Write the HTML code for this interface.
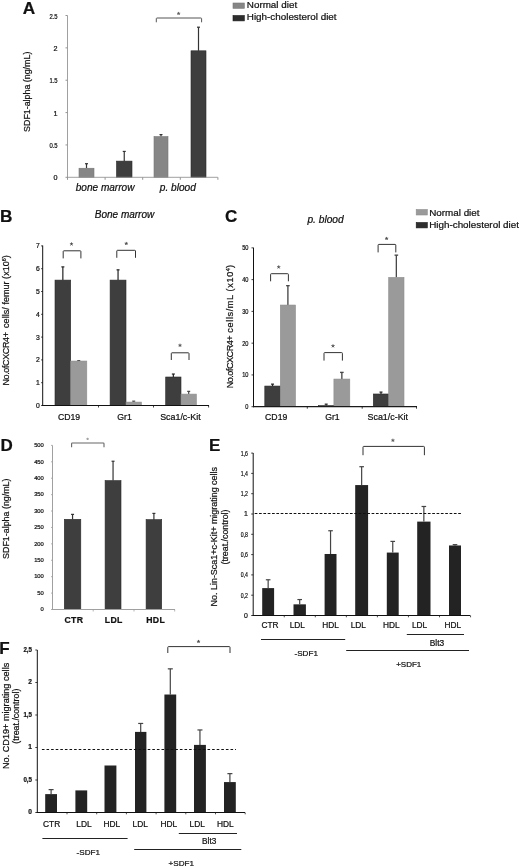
<!DOCTYPE html>
<html lang="en">
<head>
<meta charset="utf-8">
<title>Figure</title>
<style>
html,body{margin:0;padding:0;background:#fff;}
body{width:520px;height:868px;overflow:hidden;font-family:"Liberation Sans",sans-serif;}
svg{display:block;filter:grayscale(1);}
svg text{font-family:"Liberation Sans",sans-serif;fill:#111;stroke:#111;stroke-width:.22px;}
</style>
</head>
<body>
<svg width="520" height="868" viewBox="0 0 520 868">
<rect x="0" y="0" width="520" height="868" fill="#fff"/>
<g>
<text x="22.8" y="13.9" font-size="17.2" font-weight="bold" fill="#000" stroke="#000">A</text>
<line x1="86.5" y1="163.71" x2="86.5" y2="168.24" stroke="#333" stroke-width="1.2"/>
<line x1="85" y1="163.71" x2="88" y2="163.71" stroke="#333" stroke-width="1.2"/>
<rect x="79" y="168.24" width="15" height="9.06" fill="#868686" stroke="#777" stroke-width="0.6"/>
<line x1="124.25" y1="151.42" x2="124.25" y2="161.12" stroke="#333" stroke-width="1.2"/>
<line x1="122.75" y1="151.42" x2="125.75" y2="151.42" stroke="#333" stroke-width="1.2"/>
<rect x="116.5" y="161.12" width="15.5" height="16.18" fill="#3e3e3e" stroke="#2a2a2a" stroke-width="0.6"/>
<line x1="161" y1="134.6" x2="161" y2="136.54" stroke="#333" stroke-width="1.2"/>
<line x1="159.5" y1="134.6" x2="162.5" y2="134.6" stroke="#333" stroke-width="1.2"/>
<rect x="154" y="136.54" width="14" height="40.76" fill="#868686" stroke="#777" stroke-width="0.6"/>
<line x1="198.5" y1="27.2" x2="198.5" y2="50.81" stroke="#333" stroke-width="1.2"/>
<line x1="197" y1="27.2" x2="200" y2="27.2" stroke="#333" stroke-width="1.2"/>
<rect x="191" y="50.81" width="15" height="126.49" fill="#3e3e3e" stroke="#2a2a2a" stroke-width="0.6"/>
<line x1="67.5" y1="15.5" x2="67.5" y2="177.8" stroke="#959595" stroke-width="0.9"/>
<line x1="67" y1="177.3" x2="217.8" y2="177.3" stroke="#959595" stroke-width="0.9"/>
<line x1="67.5" y1="177.3" x2="67.5" y2="179.8" stroke="#959595" stroke-width="1"/>
<line x1="105.1" y1="177.3" x2="105.1" y2="179.8" stroke="#959595" stroke-width="1"/>
<line x1="142.7" y1="177.3" x2="142.7" y2="179.8" stroke="#959595" stroke-width="1"/>
<line x1="180.3" y1="177.3" x2="180.3" y2="179.8" stroke="#959595" stroke-width="1"/>
<line x1="217.9" y1="177.3" x2="217.9" y2="179.8" stroke="#959595" stroke-width="1"/>
<line x1="65.5" y1="177.3" x2="67.5" y2="177.3" stroke="#959595" stroke-width="1"/>
<text x="57.6" y="180.3" font-size="7.2" text-anchor="end">0</text>
<line x1="65.5" y1="144.94" x2="67.5" y2="144.94" stroke="#959595" stroke-width="1"/>
<text x="57.6" y="147.94" font-size="7.2" text-anchor="end" textLength="8.2" lengthAdjust="spacingAndGlyphs">0.5</text>
<line x1="65.5" y1="112.58" x2="67.5" y2="112.58" stroke="#959595" stroke-width="1"/>
<text x="57.6" y="115.58" font-size="7.2" text-anchor="end">1</text>
<line x1="65.5" y1="80.22" x2="67.5" y2="80.22" stroke="#959595" stroke-width="1"/>
<text x="57.6" y="83.22" font-size="7.2" text-anchor="end" textLength="8.2" lengthAdjust="spacingAndGlyphs">1.5</text>
<line x1="65.5" y1="47.86" x2="67.5" y2="47.86" stroke="#959595" stroke-width="1"/>
<text x="57.6" y="50.86" font-size="7.2" text-anchor="end">2</text>
<line x1="65.5" y1="15.5" x2="67.5" y2="15.5" stroke="#959595" stroke-width="1"/>
<text x="57.6" y="18.5" font-size="7.2" text-anchor="end" textLength="8.2" lengthAdjust="spacingAndGlyphs">2.5</text>
<text x="105.1" y="191.42" font-size="10.05" text-anchor="middle" font-style="italic">bone marrow</text>
<text x="177.8" y="191.45" font-size="10.15" text-anchor="middle" font-style="italic">p. blood</text>
<text x="30.29" y="91.8" font-size="8.87" text-anchor="middle" transform="rotate(-90 30.29 91.8)">SDF1-alpha (ng/mL)</text>
<path d="M156.3 22.3 V18.7 Q156.3 18 157 18 H200.9 Q201.6 18 201.6 18.7 V22.3" fill="none" stroke="#555" stroke-width="1"/>
<path d="M178.6 13.6 L178.6 11.93M178.6 13.6 L180.19 13.08M178.6 13.6 L179.58 14.95M178.6 13.6 L177.62 14.95M178.6 13.6 L177.01 13.08" fill="none" stroke="#555" stroke-width="0.9"/>
<rect x="233" y="3" width="11.3" height="5.3" fill="#868686" stroke="#777" stroke-width="0.6"/>
<rect x="233" y="15.5" width="11.3" height="5.4" fill="#2e2e2e" stroke="#1a1a1a" stroke-width="0.6"/>
<text x="246.8" y="8.3" font-size="9.85">Normal diet</text>
<text x="246.8" y="19.9" font-size="9.85">High-cholesterol diet</text>
<text x="0" y="221.9" font-size="17.2" font-weight="bold" fill="#000" stroke="#000">B</text>
<text x="124.5" y="218" font-size="10" text-anchor="middle" font-style="italic">Bone marrow</text>
<line x1="62.85" y1="266.88" x2="62.85" y2="280.1" stroke="#222" stroke-width="1.2"/>
<line x1="61.35" y1="266.88" x2="64.35" y2="266.88" stroke="#222" stroke-width="1.2"/>
<line x1="78.75" y1="360.58" x2="78.75" y2="361.04" stroke="#444" stroke-width="1.2"/>
<line x1="77.25" y1="360.58" x2="80.25" y2="360.58" stroke="#444" stroke-width="1.2"/>
<rect x="55" y="280.1" width="15.7" height="125.4" fill="#3e3e3e" stroke="#2a2a2a" stroke-width="0.6"/>
<rect x="70.7" y="361.04" width="16.1" height="44.46" fill="#9a9a9a" stroke="#8e8e8e" stroke-width="0.6"/>
<line x1="118.05" y1="269.84" x2="118.05" y2="280.1" stroke="#222" stroke-width="1.2"/>
<line x1="116.55" y1="269.84" x2="119.55" y2="269.84" stroke="#222" stroke-width="1.2"/>
<line x1="133.7" y1="401.17" x2="133.7" y2="402.08" stroke="#444" stroke-width="1.2"/>
<line x1="132.2" y1="401.17" x2="135.2" y2="401.17" stroke="#444" stroke-width="1.2"/>
<rect x="110.1" y="280.1" width="15.9" height="125.4" fill="#3e3e3e" stroke="#2a2a2a" stroke-width="0.6"/>
<rect x="126" y="402.08" width="15.4" height="3.42" fill="#9a9a9a" stroke="#8e8e8e" stroke-width="0.6"/>
<line x1="173.35" y1="374.04" x2="173.35" y2="377" stroke="#222" stroke-width="1.2"/>
<line x1="171.85" y1="374.04" x2="174.85" y2="374.04" stroke="#222" stroke-width="1.2"/>
<line x1="188.7" y1="391.36" x2="188.7" y2="394.1" stroke="#444" stroke-width="1.2"/>
<line x1="187.2" y1="391.36" x2="190.2" y2="391.36" stroke="#444" stroke-width="1.2"/>
<rect x="165.7" y="377" width="15.3" height="28.5" fill="#3e3e3e" stroke="#2a2a2a" stroke-width="0.6"/>
<rect x="181" y="394.1" width="15.4" height="11.4" fill="#9a9a9a" stroke="#8e8e8e" stroke-width="0.6"/>
<line x1="42.7" y1="245.5" x2="42.7" y2="406" stroke="#111" stroke-width="1"/>
<line x1="42.2" y1="405.5" x2="209" y2="405.5" stroke="#111" stroke-width="1"/>
<line x1="98.5" y1="405.5" x2="98.5" y2="407.5" stroke="#111" stroke-width="0.8"/>
<line x1="153.5" y1="405.5" x2="153.5" y2="407.5" stroke="#111" stroke-width="0.8"/>
<line x1="208.6" y1="405.5" x2="208.6" y2="407.5" stroke="#111" stroke-width="0.8"/>
<line x1="41.1" y1="405.5" x2="42.7" y2="405.5" stroke="#111" stroke-width="0.8"/>
<text x="39.7" y="407.9" font-size="6.8" text-anchor="end">0</text>
<line x1="41.1" y1="382.7" x2="42.7" y2="382.7" stroke="#111" stroke-width="0.8"/>
<text x="39.7" y="385.1" font-size="6.8" text-anchor="end">1</text>
<line x1="41.1" y1="359.9" x2="42.7" y2="359.9" stroke="#111" stroke-width="0.8"/>
<text x="39.7" y="362.3" font-size="6.8" text-anchor="end">2</text>
<line x1="41.1" y1="337.1" x2="42.7" y2="337.1" stroke="#111" stroke-width="0.8"/>
<text x="39.7" y="339.5" font-size="6.8" text-anchor="end">3</text>
<line x1="41.1" y1="314.3" x2="42.7" y2="314.3" stroke="#111" stroke-width="0.8"/>
<text x="39.7" y="316.7" font-size="6.8" text-anchor="end">4</text>
<line x1="41.1" y1="291.5" x2="42.7" y2="291.5" stroke="#111" stroke-width="0.8"/>
<text x="39.7" y="293.9" font-size="6.8" text-anchor="end">5</text>
<line x1="41.1" y1="268.7" x2="42.7" y2="268.7" stroke="#111" stroke-width="0.8"/>
<text x="39.7" y="271.1" font-size="6.8" text-anchor="end">6</text>
<line x1="41.1" y1="245.9" x2="42.7" y2="245.9" stroke="#111" stroke-width="0.8"/>
<text x="39.7" y="248.3" font-size="6.8" text-anchor="end">7</text>
<text x="69" y="419.73" font-size="8.7" text-anchor="middle">CD19</text>
<text x="124.5" y="419.73" font-size="8.7" text-anchor="middle">Gr1</text>
<text x="180.4" y="419.8" font-size="8.9" text-anchor="middle">Sca1/c-Kit</text>
<text x="8.83" y="320.4" font-size="8.96" text-anchor="middle" transform="rotate(-90 8.83 320.4)"><tspan letter-spacing="-0.35">No.ofCXCR4+</tspan><tspan letter-spacing="0.06" dx="2"> cells/ femur (x10</tspan><tspan font-size="5.5" dy="-3">6</tspan><tspan dy="3">)</tspan></text>
<path d="M63.2 258.4 V251.5 Q63.2 250.8 63.9 250.8 H80.2 Q80.9 250.8 80.9 251.5 V258.4" fill="none" stroke="#333" stroke-width="1"/>
<path d="M71.5 244.1 L71.5 242.43M71.5 244.1 L73.09 243.58M71.5 244.1 L72.48 245.45M71.5 244.1 L70.52 245.45M71.5 244.1 L69.91 243.58" fill="none" stroke="#444" stroke-width="0.9"/>
<path d="M116.8 257.8 V251 Q116.8 250.3 117.5 250.3 H134.8 Q135.5 250.3 135.5 251 V257.8" fill="none" stroke="#333" stroke-width="1"/>
<path d="M126.3 243.6 L126.3 241.93M126.3 243.6 L127.89 243.08M126.3 243.6 L127.28 244.95M126.3 243.6 L125.32 244.95M126.3 243.6 L124.71 243.08" fill="none" stroke="#444" stroke-width="0.9"/>
<path d="M171.3 360 V353.5 Q171.3 352.8 172 352.8 H188.3 Q189 352.8 189 353.5 V360" fill="none" stroke="#333" stroke-width="1"/>
<path d="M180 345.4 L180 343.73M180 345.4 L181.59 344.88M180 345.4 L180.98 346.75M180 345.4 L179.02 346.75M180 345.4 L178.41 344.88" fill="none" stroke="#444" stroke-width="0.9"/>
<text x="225" y="221.9" font-size="17" font-weight="bold" fill="#000" stroke="#000">C</text>
<text x="325.6" y="222.67" font-size="10.2" text-anchor="middle" font-style="italic">p. blood</text>
<line x1="272.55" y1="384.14" x2="272.55" y2="386.05" stroke="#222" stroke-width="1.2"/>
<line x1="271.05" y1="384.14" x2="274.05" y2="384.14" stroke="#222" stroke-width="1.2"/>
<line x1="287.9" y1="285.66" x2="287.9" y2="305.04" stroke="#484848" stroke-width="1.35"/>
<line x1="286.1" y1="285.66" x2="289.7" y2="285.66" stroke="#484848" stroke-width="1.35"/>
<rect x="264.8" y="386.05" width="15.5" height="20.65" fill="#3e3e3e" stroke="#2a2a2a" stroke-width="0.6"/>
<rect x="280.3" y="305.04" width="15.2" height="101.66" fill="#9a9a9a" stroke="#8e8e8e" stroke-width="0.6"/>
<line x1="326.2" y1="404.16" x2="326.2" y2="405.59" stroke="#222" stroke-width="1.2"/>
<line x1="324.7" y1="404.16" x2="327.7" y2="404.16" stroke="#222" stroke-width="1.2"/>
<line x1="341.85" y1="372.39" x2="341.85" y2="379.06" stroke="#484848" stroke-width="1.35"/>
<line x1="340.05" y1="372.39" x2="343.65" y2="372.39" stroke="#484848" stroke-width="1.35"/>
<rect x="318.5" y="405.59" width="15.4" height="1.11" fill="#3e3e3e" stroke="#2a2a2a" stroke-width="0.6"/>
<rect x="333.9" y="379.06" width="15.9" height="27.64" fill="#9a9a9a" stroke="#8e8e8e" stroke-width="0.6"/>
<line x1="381" y1="392.09" x2="381" y2="393.99" stroke="#222" stroke-width="1.2"/>
<line x1="379.5" y1="392.09" x2="382.5" y2="392.09" stroke="#222" stroke-width="1.2"/>
<line x1="396.35" y1="255.16" x2="396.35" y2="277.4" stroke="#484848" stroke-width="1.35"/>
<line x1="394.55" y1="255.16" x2="398.15" y2="255.16" stroke="#484848" stroke-width="1.35"/>
<rect x="373.3" y="393.99" width="15.4" height="12.71" fill="#3e3e3e" stroke="#2a2a2a" stroke-width="0.6"/>
<rect x="388.7" y="277.4" width="15.3" height="129.3" fill="#9a9a9a" stroke="#8e8e8e" stroke-width="0.6"/>
<line x1="253.5" y1="247.7" x2="253.5" y2="407.2" stroke="#111" stroke-width="1"/>
<line x1="253" y1="406.7" x2="417" y2="406.7" stroke="#1a1a1a" stroke-width="1.3"/>
<line x1="307.3" y1="406.7" x2="307.3" y2="408.7" stroke="#111" stroke-width="0.8"/>
<line x1="362.2" y1="406.7" x2="362.2" y2="408.7" stroke="#111" stroke-width="0.8"/>
<line x1="416.5" y1="406.7" x2="416.5" y2="408.7" stroke="#111" stroke-width="0.8"/>
<line x1="251.5" y1="406.7" x2="253.5" y2="406.7" stroke="#111" stroke-width="0.8"/>
<text x="248.5" y="409.2" font-size="6.9" text-anchor="end" textLength="3.15" lengthAdjust="spacingAndGlyphs">0</text>
<line x1="251.5" y1="374.93" x2="253.5" y2="374.93" stroke="#111" stroke-width="0.8"/>
<text x="248.5" y="377.43" font-size="6.9" text-anchor="end" textLength="6.3" lengthAdjust="spacingAndGlyphs">10</text>
<line x1="251.5" y1="343.16" x2="253.5" y2="343.16" stroke="#111" stroke-width="0.8"/>
<text x="248.5" y="345.66" font-size="6.9" text-anchor="end" textLength="6.3" lengthAdjust="spacingAndGlyphs">20</text>
<line x1="251.5" y1="311.39" x2="253.5" y2="311.39" stroke="#111" stroke-width="0.8"/>
<text x="248.5" y="313.89" font-size="6.9" text-anchor="end" textLength="6.3" lengthAdjust="spacingAndGlyphs">30</text>
<line x1="251.5" y1="279.62" x2="253.5" y2="279.62" stroke="#111" stroke-width="0.8"/>
<text x="248.5" y="282.12" font-size="6.9" text-anchor="end" textLength="6.3" lengthAdjust="spacingAndGlyphs">40</text>
<line x1="251.5" y1="247.85" x2="253.5" y2="247.85" stroke="#111" stroke-width="0.8"/>
<text x="248.5" y="250.35" font-size="6.9" text-anchor="end" textLength="6.3" lengthAdjust="spacingAndGlyphs">50</text>
<text x="276.2" y="419.73" font-size="8.7" text-anchor="middle">CD19</text>
<text x="332.4" y="419.73" font-size="8.7" text-anchor="middle">Gr1</text>
<text x="387.8" y="419.8" font-size="8.9" text-anchor="middle">Sca1/c-Kit</text>
<text x="233.19" y="326.7" font-size="9.14" text-anchor="middle" transform="rotate(-90 233.19 326.7)"><tspan letter-spacing="-0.5">No.ofCXCR4+</tspan><tspan letter-spacing="0.62"> cells/mL (x10</tspan><tspan font-size="5.5" dy="-3">4</tspan><tspan dy="3">)</tspan></text>
<path d="M270.6 281.3 V274.4 Q270.6 273.7 271.3 273.7 H287.7 Q288.4 273.7 288.4 274.4 V281.3" fill="none" stroke="#333" stroke-width="1"/>
<path d="M278.7 267.1 L278.7 265.43M278.7 267.1 L280.29 266.58M278.7 267.1 L279.68 268.45M278.7 267.1 L277.72 268.45M278.7 267.1 L277.11 266.58" fill="none" stroke="#444" stroke-width="0.9"/>
<path d="M324 360.6 V353.3 Q324 352.6 324.7 352.6 H341.7 Q342.4 352.6 342.4 353.3 V360.6" fill="none" stroke="#333" stroke-width="1"/>
<path d="M333 346 L333 344.33M333 346 L334.59 345.48M333 346 L333.98 347.35M333 346 L332.02 347.35M333 346 L331.41 345.48" fill="none" stroke="#444" stroke-width="0.9"/>
<path d="M378.1 252.4 V245.1 Q378.1 244.4 378.8 244.4 H395.1 Q395.8 244.4 395.8 245.1 V252.4" fill="none" stroke="#333" stroke-width="1"/>
<path d="M386.6 238.6 L386.6 236.93M386.6 238.6 L388.19 238.08M386.6 238.6 L387.58 239.95M386.6 238.6 L385.62 239.95M386.6 238.6 L385.01 238.08" fill="none" stroke="#444" stroke-width="0.9"/>
<rect x="416.2" y="209.5" width="11.1" height="5.5" fill="#9a9a9a" stroke="#8e8e8e" stroke-width="0.6"/>
<rect x="416.2" y="222.5" width="11.1" height="5.4" fill="#2e2e2e" stroke="#1a1a1a" stroke-width="0.6"/>
<text x="429.2" y="215.9" font-size="9.85">Normal diet</text>
<text x="429.2" y="227.7" font-size="9.85">High-cholesterol diet</text>
<text x="0.4" y="450.8" font-size="17" font-weight="bold" fill="#000" stroke="#000">D</text>
<line x1="72.55" y1="514.38" x2="72.55" y2="519.3" stroke="#333" stroke-width="1.2"/>
<line x1="71.05" y1="514.38" x2="74.05" y2="514.38" stroke="#333" stroke-width="1.2"/>
<rect x="64.3" y="519.3" width="16.5" height="90.2" fill="#3e3e3e" stroke="#2a2a2a" stroke-width="0.6"/>
<line x1="113.05" y1="461.24" x2="113.05" y2="480.6" stroke="#333" stroke-width="1.2"/>
<line x1="111.55" y1="461.24" x2="114.55" y2="461.24" stroke="#333" stroke-width="1.2"/>
<rect x="105.1" y="480.6" width="15.9" height="128.9" fill="#3e3e3e" stroke="#2a2a2a" stroke-width="0.6"/>
<line x1="153.9" y1="513.4" x2="153.9" y2="519.63" stroke="#333" stroke-width="1.2"/>
<line x1="152.4" y1="513.4" x2="155.4" y2="513.4" stroke="#333" stroke-width="1.2"/>
<rect x="146.1" y="519.63" width="15.6" height="89.87" fill="#3e3e3e" stroke="#2a2a2a" stroke-width="0.6"/>
<line x1="52.5" y1="445.4" x2="52.5" y2="610" stroke="#a0a0a0" stroke-width="1"/>
<line x1="52" y1="609.5" x2="175" y2="609.5" stroke="#a0a0a0" stroke-width="1"/>
<line x1="93.2" y1="609.5" x2="93.2" y2="611.5" stroke="#a0a0a0" stroke-width="0.8"/>
<line x1="134" y1="609.5" x2="134" y2="611.5" stroke="#a0a0a0" stroke-width="0.8"/>
<line x1="174.7" y1="609.5" x2="174.7" y2="611.5" stroke="#a0a0a0" stroke-width="0.8"/>
<line x1="51" y1="609.5" x2="52.5" y2="609.5" stroke="#a0a0a0" stroke-width="0.8"/>
<text x="43.8" y="611.3" font-size="5.8" text-anchor="end" fill="#333" stroke="#333">0</text>
<line x1="51" y1="593.09" x2="52.5" y2="593.09" stroke="#a0a0a0" stroke-width="0.8"/>
<text x="43.8" y="594.89" font-size="5.8" text-anchor="end" fill="#333" stroke="#333">50</text>
<line x1="51" y1="576.68" x2="52.5" y2="576.68" stroke="#a0a0a0" stroke-width="0.8"/>
<text x="43.8" y="578.48" font-size="5.8" text-anchor="end" fill="#333" stroke="#333">100</text>
<line x1="51" y1="560.27" x2="52.5" y2="560.27" stroke="#a0a0a0" stroke-width="0.8"/>
<text x="43.8" y="562.07" font-size="5.8" text-anchor="end" fill="#333" stroke="#333">150</text>
<line x1="51" y1="543.86" x2="52.5" y2="543.86" stroke="#a0a0a0" stroke-width="0.8"/>
<text x="43.8" y="545.66" font-size="5.8" text-anchor="end" fill="#333" stroke="#333">200</text>
<line x1="51" y1="527.45" x2="52.5" y2="527.45" stroke="#a0a0a0" stroke-width="0.8"/>
<text x="43.8" y="529.25" font-size="5.8" text-anchor="end" fill="#333" stroke="#333">250</text>
<line x1="51" y1="511.04" x2="52.5" y2="511.04" stroke="#a0a0a0" stroke-width="0.8"/>
<text x="43.8" y="512.84" font-size="5.8" text-anchor="end" fill="#333" stroke="#333">300</text>
<line x1="51" y1="494.63" x2="52.5" y2="494.63" stroke="#a0a0a0" stroke-width="0.8"/>
<text x="43.8" y="496.43" font-size="5.8" text-anchor="end" fill="#333" stroke="#333">350</text>
<line x1="51" y1="478.22" x2="52.5" y2="478.22" stroke="#a0a0a0" stroke-width="0.8"/>
<text x="43.8" y="480.02" font-size="5.8" text-anchor="end" fill="#333" stroke="#333">400</text>
<line x1="51" y1="461.81" x2="52.5" y2="461.81" stroke="#a0a0a0" stroke-width="0.8"/>
<text x="43.8" y="463.61" font-size="5.8" text-anchor="end" fill="#333" stroke="#333">450</text>
<line x1="51" y1="445.4" x2="52.5" y2="445.4" stroke="#a0a0a0" stroke-width="0.8"/>
<text x="43.8" y="447.2" font-size="5.8" text-anchor="end" fill="#333" stroke="#333">500</text>
<text x="73.9" y="622.73" font-size="8.7" text-anchor="middle" font-weight="bold" letter-spacing="0.35">CTR</text>
<text x="113.7" y="622.73" font-size="8.7" text-anchor="middle" font-weight="bold" letter-spacing="0.35">LDL</text>
<text x="155.7" y="622.73" font-size="8.7" text-anchor="middle" font-weight="bold" letter-spacing="0.35">HDL</text>
<text x="8.7" y="518.7" font-size="8.9" text-anchor="middle" transform="rotate(-90 8.7 518.7)">SDF1-alpha (ng/mL)</text>
<path d="M71.6 447.2 V443.7 Q71.6 443 72.3 443 H103.3 Q104 443 104 443.7 V447.2" fill="none" stroke="#666" stroke-width="1.1"/>
<path d="M87.6 439 L87.6 437.75M87.6 439 L88.79 438.61M87.6 439 L88.33 440.01M87.6 439 L86.87 440.01M87.6 439 L86.41 438.61" fill="none" stroke="#999" stroke-width="0.9"/>
<text x="209" y="450.6" font-size="17" font-weight="bold" fill="#000" stroke="#000">E</text>
<line x1="268.15" y1="579.77" x2="268.15" y2="588.1" stroke="#444" stroke-width="1.2"/>
<line x1="265.85" y1="579.77" x2="270.45" y2="579.77" stroke="#444" stroke-width="1.2"/>
<rect x="262.2" y="588.1" width="11.9" height="27.4" fill="#232323"/>
<line x1="299.7" y1="599.56" x2="299.7" y2="604.34" stroke="#444" stroke-width="1.2"/>
<line x1="297.4" y1="599.56" x2="302" y2="599.56" stroke="#444" stroke-width="1.2"/>
<rect x="293.5" y="604.34" width="12.4" height="11.16" fill="#232323"/>
<line x1="330.55" y1="530.75" x2="330.55" y2="553.99" stroke="#444" stroke-width="1.2"/>
<line x1="328.25" y1="530.75" x2="332.85" y2="530.75" stroke="#444" stroke-width="1.2"/>
<rect x="324.6" y="553.99" width="11.9" height="61.51" fill="#232323"/>
<line x1="361.65" y1="466.7" x2="361.65" y2="485.07" stroke="#444" stroke-width="1.2"/>
<line x1="359.35" y1="466.7" x2="363.95" y2="466.7" stroke="#444" stroke-width="1.2"/>
<rect x="355.2" y="485.07" width="12.9" height="130.43" fill="#232323"/>
<line x1="392.75" y1="541.4" x2="392.75" y2="552.57" stroke="#444" stroke-width="1.2"/>
<line x1="390.45" y1="541.4" x2="395.05" y2="541.4" stroke="#444" stroke-width="1.2"/>
<rect x="386.8" y="552.57" width="11.9" height="62.93" fill="#232323"/>
<line x1="423.85" y1="506.49" x2="423.85" y2="521.61" stroke="#444" stroke-width="1.2"/>
<line x1="421.55" y1="506.49" x2="426.15" y2="506.49" stroke="#444" stroke-width="1.2"/>
<rect x="417.2" y="521.61" width="13.3" height="93.89" fill="#232323"/>
<line x1="455" y1="544.65" x2="455" y2="545.47" stroke="#444" stroke-width="1.2"/>
<line x1="452.7" y1="544.65" x2="457.3" y2="544.65" stroke="#444" stroke-width="1.2"/>
<rect x="449" y="545.47" width="12" height="70.03" fill="#232323"/>
<line x1="253.2" y1="453" x2="253.2" y2="616" stroke="#111" stroke-width="1"/>
<line x1="252.7" y1="615.5" x2="470.2" y2="615.5" stroke="#111" stroke-width="1"/>
<line x1="284.25" y1="615.5" x2="284.25" y2="617.3" stroke="#222" stroke-width="0.8"/>
<line x1="315.3" y1="615.5" x2="315.3" y2="617.3" stroke="#222" stroke-width="0.8"/>
<line x1="346.35" y1="615.5" x2="346.35" y2="617.3" stroke="#222" stroke-width="0.8"/>
<line x1="377.4" y1="615.5" x2="377.4" y2="617.3" stroke="#222" stroke-width="0.8"/>
<line x1="408.45" y1="615.5" x2="408.45" y2="617.3" stroke="#222" stroke-width="0.8"/>
<line x1="439.5" y1="615.5" x2="439.5" y2="617.3" stroke="#222" stroke-width="0.8"/>
<line x1="470.55" y1="615.5" x2="470.55" y2="617.3" stroke="#222" stroke-width="0.8"/>
<line x1="251.2" y1="615.5" x2="253.2" y2="615.5" stroke="#111" stroke-width="0.8"/>
<text x="247.9" y="617.9" font-size="6.9" text-anchor="end">0</text>
<line x1="251.2" y1="595.2" x2="253.2" y2="595.2" stroke="#111" stroke-width="0.8"/>
<text x="247.9" y="597.6" font-size="6.9" text-anchor="end" textLength="7.2" lengthAdjust="spacingAndGlyphs">0,2</text>
<line x1="251.2" y1="574.9" x2="253.2" y2="574.9" stroke="#111" stroke-width="0.8"/>
<text x="247.9" y="577.3" font-size="6.9" text-anchor="end" textLength="7.2" lengthAdjust="spacingAndGlyphs">0,4</text>
<line x1="251.2" y1="554.6" x2="253.2" y2="554.6" stroke="#111" stroke-width="0.8"/>
<text x="247.9" y="557" font-size="6.9" text-anchor="end" textLength="7.2" lengthAdjust="spacingAndGlyphs">0,6</text>
<line x1="251.2" y1="534.3" x2="253.2" y2="534.3" stroke="#111" stroke-width="0.8"/>
<text x="247.9" y="536.7" font-size="6.9" text-anchor="end" textLength="7.2" lengthAdjust="spacingAndGlyphs">0,8</text>
<line x1="251.2" y1="514" x2="253.2" y2="514" stroke="#111" stroke-width="0.8"/>
<text x="247.9" y="516.4" font-size="6.9" text-anchor="end">1</text>
<line x1="251.2" y1="493.7" x2="253.2" y2="493.7" stroke="#111" stroke-width="0.8"/>
<text x="247.9" y="496.1" font-size="6.9" text-anchor="end" textLength="7.2" lengthAdjust="spacingAndGlyphs">1,2</text>
<line x1="251.2" y1="473.4" x2="253.2" y2="473.4" stroke="#111" stroke-width="0.8"/>
<text x="247.9" y="475.8" font-size="6.9" text-anchor="end" textLength="7.2" lengthAdjust="spacingAndGlyphs">1,4</text>
<line x1="251.2" y1="453.1" x2="253.2" y2="453.1" stroke="#111" stroke-width="0.8"/>
<text x="247.9" y="455.5" font-size="6.9" text-anchor="end" textLength="7.2" lengthAdjust="spacingAndGlyphs">1,6</text>
<line x1="254.7" y1="513.5" x2="462" y2="513.5" stroke="#111" stroke-width="1" stroke-dasharray="2.7 1.63"/>
<text x="270" y="628.29" font-size="8.3" text-anchor="middle">CTR</text>
<text x="297.3" y="628.29" font-size="8.3" text-anchor="middle">LDL</text>
<text x="330.6" y="628.29" font-size="8.3" text-anchor="middle">HDL</text>
<text x="358.3" y="628.29" font-size="8.3" text-anchor="middle">LDL</text>
<text x="391.4" y="628.29" font-size="8.3" text-anchor="middle">HDL</text>
<text x="419.5" y="628.29" font-size="8.3" text-anchor="middle">LDL</text>
<text x="452.9" y="628.29" font-size="8.3" text-anchor="middle">HDL</text>
<line x1="261" y1="639.5" x2="345.2" y2="639.5" stroke="#222" stroke-width="1"/>
<line x1="406.8" y1="634.5" x2="464" y2="634.5" stroke="#222" stroke-width="1"/>
<line x1="346.2" y1="650.5" x2="469" y2="650.5" stroke="#222" stroke-width="1"/>
<text x="306.2" y="656.12" font-size="8.1" text-anchor="middle">-SDF1</text>
<text x="437" y="645.62" font-size="8.4" text-anchor="middle">Blt3</text>
<text x="408.7" y="666.98" font-size="8" text-anchor="middle">+SDF1</text>
<text x="217.31" y="536.7" font-size="8.93" text-anchor="middle" transform="rotate(-90 217.31 536.7)">No. Lin-Sca1+c-Kit+ migrating cells</text>
<text x="228.29" y="537" font-size="8.85" text-anchor="middle" transform="rotate(-90 228.29 537)">(treat./control)</text>
<path d="M363 455.2 V447.1 Q363 446.4 363.7 446.4 H423.7 Q424.4 446.4 424.4 447.1 V455.2" fill="none" stroke="#333" stroke-width="1"/>
<path d="M392.9 440.4 L392.9 438.73M392.9 440.4 L394.49 439.88M392.9 440.4 L393.88 441.75M392.9 440.4 L391.92 441.75M392.9 440.4 L391.31 439.88" fill="none" stroke="#444" stroke-width="0.9"/>
<text x="-0.8" y="653.8" font-size="17" font-weight="bold" fill="#000" stroke="#000">F</text>
<line x1="51.1" y1="789.62" x2="51.1" y2="794.11" stroke="#444" stroke-width="1.2"/>
<line x1="48.6" y1="789.62" x2="53.6" y2="789.62" stroke="#444" stroke-width="1.2"/>
<rect x="45.2" y="794.11" width="11.8" height="18.39" fill="#232323"/>
<rect x="75.4" y="790.4" width="11.8" height="22.1" fill="#232323"/>
<rect x="104.5" y="765.5" width="11.9" height="47" fill="#232323"/>
<line x1="140.7" y1="723.45" x2="140.7" y2="731.9" stroke="#444" stroke-width="1.2"/>
<line x1="138.2" y1="723.45" x2="143.2" y2="723.45" stroke="#444" stroke-width="1.2"/>
<rect x="135" y="731.9" width="11.4" height="80.6" fill="#232323"/>
<line x1="170.3" y1="668.85" x2="170.3" y2="694.52" stroke="#444" stroke-width="1.2"/>
<line x1="167.8" y1="668.85" x2="172.8" y2="668.85" stroke="#444" stroke-width="1.2"/>
<rect x="164.4" y="694.52" width="11.8" height="117.98" fill="#232323"/>
<line x1="199.95" y1="729.95" x2="199.95" y2="744.9" stroke="#444" stroke-width="1.2"/>
<line x1="197.45" y1="729.95" x2="202.45" y2="729.95" stroke="#444" stroke-width="1.2"/>
<rect x="194" y="744.9" width="11.9" height="67.6" fill="#232323"/>
<line x1="229.9" y1="773.63" x2="229.9" y2="782.08" stroke="#444" stroke-width="1.2"/>
<line x1="227.4" y1="773.63" x2="232.4" y2="773.63" stroke="#444" stroke-width="1.2"/>
<rect x="224" y="782.08" width="11.8" height="30.42" fill="#232323"/>
<line x1="37.3" y1="650" x2="37.3" y2="813" stroke="#111" stroke-width="1"/>
<line x1="36.8" y1="812.5" x2="245" y2="812.5" stroke="#111" stroke-width="1"/>
<line x1="67" y1="812.5" x2="67" y2="814.3" stroke="#222" stroke-width="0.8"/>
<line x1="96.7" y1="812.5" x2="96.7" y2="814.3" stroke="#222" stroke-width="0.8"/>
<line x1="126.4" y1="812.5" x2="126.4" y2="814.3" stroke="#222" stroke-width="0.8"/>
<line x1="156.1" y1="812.5" x2="156.1" y2="814.3" stroke="#222" stroke-width="0.8"/>
<line x1="185.8" y1="812.5" x2="185.8" y2="814.3" stroke="#222" stroke-width="0.8"/>
<line x1="215.5" y1="812.5" x2="215.5" y2="814.3" stroke="#222" stroke-width="0.8"/>
<line x1="245.2" y1="812.5" x2="245.2" y2="814.3" stroke="#222" stroke-width="0.8"/>
<line x1="35.3" y1="812.5" x2="37.3" y2="812.5" stroke="#111" stroke-width="0.8"/>
<text x="32" y="814.3" font-size="6.6" text-anchor="end" font-weight="bold">0</text>
<line x1="35.3" y1="780" x2="37.3" y2="780" stroke="#111" stroke-width="0.8"/>
<text x="32" y="781.8" font-size="6.6" text-anchor="end" font-weight="bold" textLength="8.6" lengthAdjust="spacingAndGlyphs">0,5</text>
<line x1="35.3" y1="747.5" x2="37.3" y2="747.5" stroke="#111" stroke-width="0.8"/>
<text x="32" y="749.3" font-size="6.6" text-anchor="end" font-weight="bold">1</text>
<line x1="35.3" y1="715" x2="37.3" y2="715" stroke="#111" stroke-width="0.8"/>
<text x="32" y="716.8" font-size="6.6" text-anchor="end" font-weight="bold" textLength="8.6" lengthAdjust="spacingAndGlyphs">1,5</text>
<line x1="35.3" y1="682.5" x2="37.3" y2="682.5" stroke="#111" stroke-width="0.8"/>
<text x="32" y="684.3" font-size="6.6" text-anchor="end" font-weight="bold">2</text>
<line x1="35.3" y1="650" x2="37.3" y2="650" stroke="#111" stroke-width="0.8"/>
<text x="32" y="651.8" font-size="6.6" text-anchor="end" font-weight="bold" textLength="8.6" lengthAdjust="spacingAndGlyphs">2,5</text>
<line x1="41.9" y1="749.5" x2="236" y2="749.5" stroke="#111" stroke-width="1" stroke-dasharray="2.6 2"/>
<text x="51.6" y="827.32" font-size="8.4" text-anchor="middle">CTR</text>
<text x="84" y="827.32" font-size="8.4" text-anchor="middle">LDL</text>
<text x="111.9" y="827.32" font-size="8.4" text-anchor="middle">HDL</text>
<text x="140.2" y="827.32" font-size="8.4" text-anchor="middle">LDL</text>
<text x="168.8" y="827.32" font-size="8.4" text-anchor="middle">HDL</text>
<text x="197.3" y="827.32" font-size="8.4" text-anchor="middle">LDL</text>
<text x="225.3" y="827.32" font-size="8.4" text-anchor="middle">HDL</text>
<line x1="42.4" y1="838.5" x2="127.6" y2="838.5" stroke="#222" stroke-width="1"/>
<line x1="178.8" y1="833.5" x2="237" y2="833.5" stroke="#222" stroke-width="1"/>
<line x1="134.2" y1="849.5" x2="241.3" y2="849.5" stroke="#222" stroke-width="1"/>
<text x="88.3" y="855.22" font-size="8.1" text-anchor="middle">-SDF1</text>
<text x="209.2" y="844.29" font-size="8.3" text-anchor="middle">Blt3</text>
<text x="181.3" y="866.02" font-size="8.1" text-anchor="middle">+SDF1</text>
<text x="8.59" y="715.9" font-size="9.14" text-anchor="middle" transform="rotate(-90 8.59 715.9)">No. CD19+ migrating cells</text>
<text x="18.99" y="716.2" font-size="8.85" text-anchor="middle" transform="rotate(-90 18.99 716.2)">(treat./control)</text>
<path d="M167.8 653 V647.3 Q167.8 646.6 168.5 646.6 H229.3 Q230 646.6 230 647.3 V653" fill="none" stroke="#333" stroke-width="1"/>
<path d="M198.5 641.6 L198.5 639.93M198.5 641.6 L200.09 641.08M198.5 641.6 L199.48 642.95M198.5 641.6 L197.52 642.95M198.5 641.6 L196.91 641.08" fill="none" stroke="#444" stroke-width="0.9"/>
</g>
</svg>
</body>
</html>
